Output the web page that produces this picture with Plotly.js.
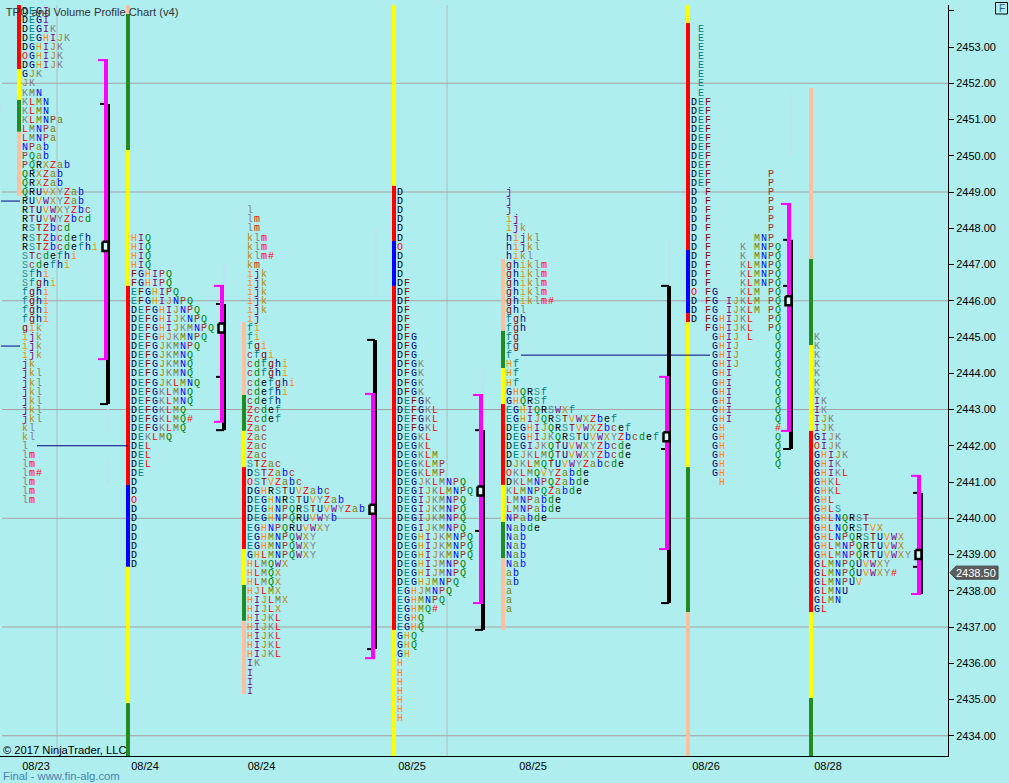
<!DOCTYPE html>
<html><head><meta charset="utf-8">
<script src="https://cdn.plot.ly/plotly-3.0.1.min.js"></script>
<style>html,body{margin:0;padding:0;background:#afeeee}#c{width:1009px;height:783px}</style>
</head><body><div id="c"></div>
<script>
// ---------- data ----------
const yTicks=[2434,2435,2436,2437,2438,2439,2440,2441,2442,2443,2444,2445,2446,2447,2448,2449,2450,2451,2452,2453,2454];
const gridPrices=[2434,2437,2440,2443,2446,2449,2452];
const dateLabels=['08/23','08/24','08/24','08/25','08/25','08/26','08/28'];
const dateSlots=[36,145,261.5,412,533,706,828];
const lastPrice=2438.5;

const topPrices=[2454.25,2447.75,2448.5,2449,2449,2453.5,2445];
const sessionSlots=[25,134,250,400,509,694,817];

const rows1=['DEGI','DEGI','DEGI','DEGIK','DEGHIJK','DGHIJK','OGHIJK','DGHIJK','GJK','JK','KMN','KLMN','KLMN','KLMNPa','LMNPa','LMNPa','NPab','PQab','PQRXZab','QRXZab','QRXZab','QRUVXYZab','RUVWXYZab','RTUVWXYZbc','RTUVWYZbcd','RSTZbcd','RSTZbcdefh','RSTZbcdefhi','STcdefhi','Scdefhi','Sfhi','Sfghi','fghi','fghi','fghi','fghi','gik','ijk','ijk','ijk','jk','jkl','jkl','jkl','jkl','jkl','jkl','kl','kl','l','lm','lm','lm#','lm','lm','lm'];
const rows2=['HIQ','HIQ','HIQ','HIQ','FGHIPQ','FGHIPQ','EFGHIPQ','EFGHIJNPQ','DEFGHIJNPQ','DEFGHIJKNPQ','DEFGHIJKMNPQ','DEFGHJKMNPQ','DEFGJKMNPQ','DEFGJKMNQ','DEFGJKMNQ','DEFGJKMNQ','DEFGJKLMNQ','DEFGKLMNQ','DEFGKLMNQ','DEFGKLMQ','DEFGKLMQ#','DEFGKLMQ','DEKLMQ','DEL','DEL','DEL','DE','D','D','O','D','D','D','D','D','D','D'];
const rows3=['l','lm','lm','klm','klm','klm#','km','ijk','ijk','ijk','ijk','ijk','ij','fi','fi','fgi','cfgi','cdfghi','cdfghi','cdefghi','cdefhi','cdefh','Zcdef','Zcdef','Zac','Zac','Zac','Zac','STZac','DSTZabc','OSTVZabc','DGHRSTUVZabc','DEGHNRSTUVYZab','DEGHNPQRSTUVWYZab','DEGHNPQRUVWYb','EGHNPQRUVWXY','EGHMNPQWXY','EGHMNPQWXY','GHLMNPQWXY','HLMQWX','HLMQX','HLMQX','HJLMX','HIJLMX','HIJLX','HIJKL','HIJKL','HIJKL','HIJKL','HIJKL','IK','I','I','I'];
const rows4=['D','D','D','D','D','D','O','D','D','D','DF','DF','DF','DF','DF','DF','DFG','DFG','DFG','DFGK','DFGK','DFGK','DFGK','DEFGK','DEFGKL','DEFGKL','DEFGKL','DEGKL','DEGKL','DEGKLM','DEGKLMP','DEGKLMP','DEGJKLMNPQ','DEGIJKLMNPQ','DEGIJKMNPQ','DEGIJKMNPQ','DEGIJKMNPQ','DEGIJKMNPQ','DEGHIJKMNPQ','DEGHIJKMNPQ','DEGHIJKMNPQ','DEGHIJMNPQ','DEGHIJMNPQ','DEGHJMNPQ','EGHJMNPQ','EGHMNPQ','EGHMQ#','EGHQ','EGHQ','GHQ','GHQ','GH','H','H','H','H','H','H','H'];
const rows5=['j','j','j','ij','ijk','hijkl','hijkl','hikl','ghiklm','ghiklm','ghiklm','ghiklm','ghiklm#','ghl','fgh','fgh','fg','fg','f','Hf','Hf','Hf','GHQRSf','GHQRSf','EGHIQRSWXf','EGHIJQRSTVWXZbef','DEGHIJQRSTVWXZbcef','DEGHIJKQRSTUVWXYZbcdef','DEGIJKQTUVWXYZbcde','DEJKLMQTUVWXYZbcde','DJKLMQTUVWYZabcde','OKLMQVYZabde','DKLMNPQZabde','KLMNPQZabde','LMNPabde','LMNPabde','NPabde','Nabde','Nab','Nab','Nab','Nab','ab','ab','a','a','a'];
const rows6=[' E',' E',' E',' E',' E',' E',' E',' E','DEF','DEF','DEF','DEF','DEF','DEF','DEF','DEF','DEF        P','DEF        P','D F        P','D F        P','D F        P','D F        P','D F        P','D F      MNP','D F    K MNPQ','D F    K MNPQ','D F    KLMNPQ','D F    KLMNPQ','D F    KLMNPQ','O FG   KLM PQ','D FG IJKLM PQ','D FG IJKLM PQ','D FGHIJKL  PQ','  FGHIJKL  PQ','   GHIJ L   Q','   GHIJ     Q','   GHIJ     Q','   GHIJ     Q','   GHI      Q','   GHI      Q','   GHI      Q','   GHI      Q','   GHI      Q','   GHI      Q','   GH       #','   GH       Q','   GH       Q','   GH       Q','   GH       Q','   GH','    H'];
const rows7=['K','K','K','K','K','K','K','IK','IK','IJK','IJK','GIJK','OIJK','GHIJK','GHIK','GHIKL','GHKL','GHKL','GHL','GHLS','GHLNQRST','GHLNQRSTVX','GHLNPQRSTUVWX','GHLMNPQRTUVWX','GHLMNPQRTUVWXY','GLMNPQUVWXY','GLMNPQUVWXY#','GLMNPUV','GLMNU','GLMN','GL'];
const profiles=[rows1,rows2,rows3,rows4,rows5,rows6,rows7];

// value-area colour bars: band edges (price, high to low) and band colours
const R='#ff0000',Y='#ffff00',G='#228b22',B='#0000ff',S='#fcbfa0';
const bandEdges=[
 [2454.2,2452.39,2451.54,2450.66,2448.89],
 [2454.2,2453.91,2450.16,2446.41,2440.92,2438.66,2434.90,2433.44],
 [2445.41,2443.40,2442.41,2441.41,2439.15,2438.16,2437.17,2435.15],
 [2454.2,2449.17,2447.65,2446.41,2436.92,2433.44],
 [2447.15,2445.17,2444.14,2443.15,2440.92,2439.90,2438.90,2436.92],
 [2454.2,2453.66,2447.40,2445.66,2445.41,2441.41,2437.41,2433.44],
 [2451.87,2447.15,2444.78,2442.41,2437.41,2435.04,2433.44]];
const bandColors=[[R,Y,G,S],[S,G,Y,R,B,Y,G],[S,G,Y,R,Y,G,S],[Y,R,B,R,Y],[S,G,Y,R,Y,G,S],[Y,R,B,R,Y,G,S],[S,G,Y,R,Y,G]];
const barSlots=[19,128,244,394,503,688,811];

// value-area brackets
const bracketSlots=[106,222,373,481,667,789,919];
const magentaHigh=[2452.64,2446.41,2443.43,2443.40,2443.90,2448.67,2441.17];
const magentaLow =[2444.39,2442.66,2436.14,2437.66,2439.15,2442.41,2437.91];
const blackHigh  =[2451.43,2445.91,2444.92,2442.43,2446.41,2447.68,2440.70];
const blackLow   =[2443.15,2442.43,2436.39,2436.92,2437.66,2441.91,2437.91];
const blackMid   =[null,2443.90,null,2439.65,2441.91,2446.41,2438.66];
const pocPrices  =[2447.5,2445.25,2440.25,2440.75,2442.25,2446.0,2439.0];

// horizontal rays: from, to, price
const rayFrom=[1,1,37,521],rayTo=[20,20,128,710],rayPrice=[2448.75,2444.75,2442,2444.5];
// faint dashes
const faintSlots=[108,108,224,224,376,483,669.5,791,1];
const faintHigh=[2443.1,2441.6,2447.0,2444.5,2448.0,2444.2,2447.7,2451.7,2451.45];
const faintLow =[2442.4,2440.9,2446.4,2443.9,2446.1,2443.5,2446.3,2450.0,2451.25];
const verticalGrid=[57,447];

// letter colours
const letterColors={D:'#000000',E:'#008080',F:'#8b0000',G:'#000080',H:'#ff8c00',I:'#800080',J:'#b8860b',K:'#808080',L:'#ff0000',M:'#808000',N:'#0000ff',O:'#ff0000',P:'#a52a2a',Q:'#008000',
R:'#000000',S:'#2e8b8b',T:'#8b0000',U:'#000080',V:'#ff8c00',W:'#800080',X:'#b8860b',Y:'#808080',Z:'#ff0000',a:'#808000',b:'#0000ff',c:'#a52a2a',d:'#008000',e:'#000000',f:'#008080',g:'#8b0000',h:'#000080',i:'#ff8c00',j:'#800080',k:'#b8860b',l:'#808080',m:'#ff0000','#':'#ff0000'};

// ---------- build traces ----------
const PITCH=7, STEP=0.25, LIFT=0.02;
const traces=[];
const line=(x,y,color,width)=>({type:'scatter',mode:'lines',x,y,line:{color,width,simplify:false},hoverinfo:'skip',showlegend:false});

faintSlots.forEach((s,i)=>traces.push(line([s,s],[faintHigh[i],faintLow[i]],'#c4dcf6',1.5)));
profiles.forEach((_,i)=>{
  const e=bandEdges[i];
  bandColors[i].forEach((c,j)=>traces.push(line([barSlots[i],barSlots[i]],[e[j],e[j+1]],c,4)));
});
rayFrom.forEach((f,i)=>traces.push(line([f,rayTo[i]],[rayPrice[i],rayPrice[i]],'#000080',1)));
bracketSlots.forEach((s,i)=>{
  traces.push(line([s+2,s+2],[blackHigh[i],blackLow[i]],'#000000',4));
  traces.push(line([s-6,s+2],[blackHigh[i],blackHigh[i]],'#000000',2));
  traces.push(line([s-6,s+2],[blackLow[i],blackLow[i]],'#000000',2));
  if(blackMid[i]!==null) traces.push(line([s-6,s+2],[blackMid[i],blackMid[i]],'#000000',2));
  traces.push(line([s,s],[magentaHigh[i],magentaLow[i]],'#ff00ff',4));
  traces.push(line([s-8,s+2],[magentaHigh[i],magentaHigh[i]],'#ff00ff',2));
  traces.push(line([s-8,s+2],[magentaLow[i],magentaLow[i]],'#ff00ff',2));
  const h=0.125,p=pocPrices[i];
  traces.push({type:'scatter',mode:'lines',x:[s-3.5,s+2.5,s+2.5,s-3.5,s-3.5],y:[p+h,p+h,p-h,p-h,p+h],fill:'toself',fillcolor:'#d8f8f8',line:{color:'#000000',width:2.5},hoverinfo:'skip',showlegend:false});
});
const tx=[],ty=[],tt=[],tc=[];
profiles.forEach((rows,i)=>{
  rows.forEach((row,r)=>{
    [...row].forEach((ch,c)=>{
      if(ch===' ')return;
      tx.push(sessionSlots[i]+c*PITCH);
      ty.push(topPrices[i]-r*STEP-LIFT);
      tt.push(ch);tc.push(letterColors[ch]);
    });
  });
});
traces.push({type:'scatter',mode:'text',x:tx,y:ty,text:tt,textposition:'middle center',
  textfont:{family:'Liberation Mono, monospace',size:10,color:tc,weight:400},hoverinfo:'skip',showlegend:false});

const W=948,H=751,T=5;
const pxX=v=>v/W;
const pxY=v=>1-(v-T)/H;
const yOf=p=>47+(2453-p)*36.25;
const tagY=yOf(lastPrice);
const layout={
  width:1009,height:783,autosize:false,
  margin:{l:0,r:61,t:5,b:27,pad:0},
  paper_bgcolor:'#afeeee',plot_bgcolor:'#afeeee',
  showlegend:false,
  title:{text:'TPO and Volume Profile Chart (v4)',x:6/1009,xanchor:'left',xref:'paper',y:1-12/783,yref:'container',yanchor:'middle',pad:{l:0,t:0,b:0,r:0},
    font:{family:'Liberation Sans, Arial, sans-serif',size:11.2,color:'#333'}},
  xaxis:{range:[0,W],showgrid:false,zeroline:false,tickmode:'array',tickvals:dateSlots,ticktext:dateLabels,ticks:'',
    showline:true,linecolor:'#000',linewidth:1,tickfont:{family:'Liberation Sans, Arial, sans-serif',size:11,color:'#000'},automargin:false},
  yaxis:{range:[2453-709/36.25,2453+42/36.25],side:'right',showgrid:false,zeroline:false,tickmode:'array',tickvals:yTicks,
    ticktext:yTicks.map(v=>v===2454?'':v.toFixed(2)),ticks:'outside',ticklen:5,tickwidth:1,tickcolor:'#000',
    showline:true,linecolor:'#000',linewidth:1,tickfont:{family:'Liberation Sans, Arial, sans-serif',size:11,color:'#000'},automargin:false},
  shapes:[
    ...gridPrices.map(p=>({type:'line',layer:'below',xref:'x',yref:'y',x0:2,x1:W,y0:p,y1:p,line:{color:'#a8a0a0',width:1}})),
    ...verticalGrid.map(v=>({type:'line',layer:'below',xref:'x',yref:'paper',x0:v,x1:v,y0:0,y1:1,line:{color:'#b4bcbc',width:1}})),
    {type:'path',xref:'paper',yref:'paper',layer:'above',fillcolor:'#5c5c5c',line:{color:'#444',width:1},
     path:`M ${pxX(950)} ${pxY(tagY)} L ${pxX(956)} ${pxY(tagY-6.5)} L ${pxX(998)} ${pxY(tagY-6.5)} L ${pxX(998)} ${pxY(tagY+6.5)} L ${pxX(956)} ${pxY(tagY+6.5)} Z`},
    {type:'rect',xref:'paper',yref:'paper',layer:'above',x0:pxX(995.5),x1:pxX(1007.5),y0:pxY(14),y1:pxY(2.5),line:{color:'#000',width:1},fillcolor:'rgba(0,0,0,0)'},
  ],
  annotations:[
    {xref:'paper',yref:'paper',x:pxX(976),y:pxY(tagY),text:lastPrice.toFixed(2),showarrow:false,xanchor:'center',yanchor:'middle',font:{family:'Liberation Sans, Arial, sans-serif',size:11,color:'#fff'}},
    {xref:'paper',yref:'paper',x:pxX(3),y:pxY(750),text:'© 2017 NinjaTrader, LLC',showarrow:false,xanchor:'left',yanchor:'middle',xshift:-1,font:{family:'Liberation Sans, Arial, sans-serif',size:11.2,color:'#000'},borderpad:0},
    {xref:'paper',yref:'paper',x:pxX(3),y:pxY(776),text:'Final - www.fin-alg.com',showarrow:false,xanchor:'left',yanchor:'middle',xshift:-1,font:{family:'Liberation Sans, Arial, sans-serif',size:11.3,color:'#4682b4'},borderpad:0},
    {xref:'paper',yref:'paper',x:pxX(1001.5),y:pxY(8),text:'F',showarrow:false,xanchor:'center',yanchor:'middle',font:{family:'Liberation Sans, Arial, sans-serif',size:10,color:'#2a5a8a'}},
  ]
};
Plotly.newPlot('c',traces,layout,{staticPlot:true,displayModeBar:false});
</script></body></html>
